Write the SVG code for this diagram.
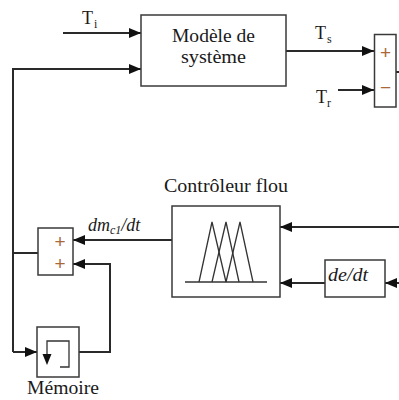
<svg xmlns="http://www.w3.org/2000/svg" width="399" height="400" viewBox="0 0 399 400">
<style>
.box{fill:#fff;stroke:#3a3a3a;stroke-width:1.5}
.ln{fill:none;stroke:#2a2a2a;stroke-width:2}
.thin{fill:none;stroke:#333;stroke-width:1.3}
.t{font-family:'Liberation Serif','Times New Roman',serif;font-size:18px;fill:#1a1a1a}
.sub{font-family:'Liberation Serif','Times New Roman',serif;font-size:12px;fill:#1a1a1a}
.it{font-style:italic}
.sign{font-family:'Liberation Sans',Arial,sans-serif;font-size:19px;fill:#a8683a}
</style>
<defs>
<marker id="ah" markerWidth="12" markerHeight="10" refX="12" refY="5" orient="auto" markerUnits="userSpaceOnUse">
<path d="M0,0 L12,5 L0,10 Z" fill="#111"/>
</marker>
</defs>
<rect width="399" height="400" fill="#fff"/>
<g id="connectors">
<path class="ln" d="M63,33 H141" marker-end="url(#ah)"/>
<path class="ln" d="M13,352 V69 H141" marker-end="url(#ah)"/>
<path class="ln" d="M13,352 H37" marker-end="url(#ah)"/>
<path class="ln" d="M38,253 H13" stroke-width="2.5"/>
<path class="ln" d="M286,51 H374" marker-end="url(#ah)"/>
<path class="ln" d="M338,90 H374" marker-end="url(#ah)"/>
<path class="ln" d="M396,72 H399"/>
<path class="ln" d="M399,227 H280" marker-end="url(#ah)"/>
<path class="ln" d="M325,283 H280" marker-end="url(#ah)"/>
<path class="ln" d="M399,283 H385" marker-end="url(#ah)"/>
<path class="ln" d="M172,240 H73" marker-end="url(#ah)"/>
<path class="ln" d="M79,352 H110 V264 H73" marker-end="url(#ah)"/>
</g>
<g id="label-Ti">
<text class="t" x="82" y="24">T</text><text class="sub" x="94" y="28">i</text>
</g>
<g id="model">
<rect class="box" x="141" y="15" width="145" height="71"/>
<text class="t" x="172" y="42" textLength="83" lengthAdjust="spacingAndGlyphs">Modèle de</text>
<text class="t" x="181" y="63" textLength="65" lengthAdjust="spacingAndGlyphs">système</text>
</g>
<g id="label-Ts">
<text class="t" x="315" y="39">T</text><text class="sub" x="327" y="43">s</text>
</g>
<g id="label-Tr">
<text class="t" x="316" y="103">T</text><text class="sub" x="327" y="107">r</text>
</g>
<g id="sum1">
<rect class="box" x="374.5" y="34.5" width="21.5" height="72.5"/>
<text class="sign" x="385.5" y="59" text-anchor="middle">+</text>
<text class="sign" x="385.5" y="94" text-anchor="middle">−</text>
</g>
<g id="fuzzy">
<text class="t" x="164" y="192" textLength="124" lengthAdjust="spacingAndGlyphs">Contrôleur flou</text>
<rect class="box" x="172" y="206" width="108" height="91"/>
<path class="thin" d="M185,282 H267"/>
<path class="thin" d="M199,282 L212,222 L226,282"/>
<path class="thin" d="M212,282 L226,222 L239,282"/>
<path class="thin" d="M226,282 L240,222 L253,282"/>
</g>
<g id="ddt">
<rect class="box" x="325" y="260" width="60" height="37"/>
<text class="t it" x="328" y="281" textLength="40" lengthAdjust="spacingAndGlyphs">de/dt</text>
</g>
<g id="label-dmc1">
<text class="t it" x="88" y="231">dm<tspan class="sub it" dy="3">c1</tspan><tspan dy="-3">/dt</tspan></text>
</g>
<g id="sum2">
<rect class="box" x="38" y="228" width="35" height="47"/>
<text class="sign" x="60" y="248" text-anchor="middle">+</text>
<text class="sign" x="60" y="270" text-anchor="middle">+</text>
</g>
<g id="memoire">
<rect class="box" x="37" y="327" width="42" height="50"/>
<path class="thin" d="M47,355 V341 H69 V367 H60"/>
<path d="M42.5,354 L51.5,354 L47,365 Z" fill="#111"/>
<text class="t" x="27" y="394" textLength="72" lengthAdjust="spacingAndGlyphs">Mémoire</text>
</g>
</svg>
